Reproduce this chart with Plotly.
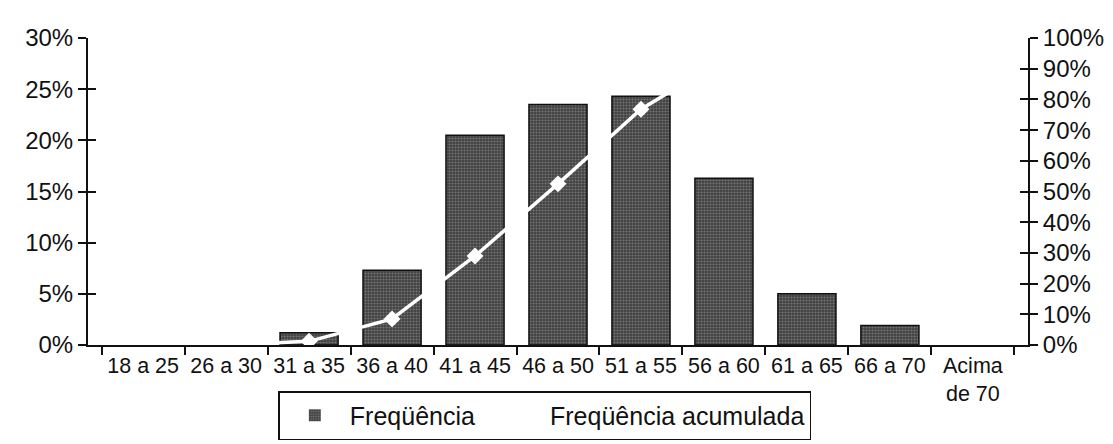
import plotly.graph_objects as go

categories = ["18 a 25", "26 a 30", "31 a 35", "36 a 40", "41 a 45", "46 a 50",
              "51 a 55", "56 a 60", "61 a 65", "66 a 70", "Acima<br>de 70"]
frequencia = [0.0, 0.0, 1.2, 7.3, 20.5, 23.5, 24.3, 16.3, 5.0, 1.9, 0.0]
acumulada = [0.0, 0.0, 1.2, 8.5, 29.0, 52.5, 76.8, 93.1, 98.1, 100.0, 100.0]
left_ticks = [0, 5, 10, 15, 20, 25, 30]
right_ticks = [0, 10, 20, 30, 40, 50, 60, 70, 80, 90, 100]

fam = "Liberation Sans, Arial, sans-serif"
yfont = dict(family=fam, size=24, color="#111")
xfont = dict(family=fam, size=21.5, color="#111")
lfont = dict(family=fam, size=25, color="#111")

fig = go.Figure()
fig.add_trace(go.Bar(
    x=categories, y=frequencia, name="Freqüência", width=0.7,
    marker=dict(color="#4a4a4a",
                line=dict(color="#111", width=[1.5 if v > 0 else 0 for v in frequencia]),
                pattern=dict(shape=".", fgcolor="#a8a8a8", bgcolor="#404040",
                             size=3, solidity=0.4, fillmode="overlay")),
    yaxis="y"))
fig.add_trace(go.Scatter(
    x=categories, y=acumulada, name="Freqüência acumulada", mode="lines+markers",
    line=dict(color="white", width=3.5),
    marker=dict(symbol="diamond", size=13, color="white"),
    yaxis="y2"))

common = dict(showgrid=False, zeroline=False, ticklen=8, tickwidth=2,
              tickcolor="#111", automargin=False)
nolines = dict(showline=False)

fig.update_layout(
    width=1113, height=444,
    margin=dict(l=80, r=93, t=30, b=102),
    paper_bgcolor="white", plot_bgcolor="white",
    font=xfont,
    xaxis=dict(showgrid=False, showline=True, linecolor="#111", linewidth=2,
               ticks="outside", tickson="boundaries", ticklen=8, tickwidth=2,
               tickcolor="#111", tickangle=0, tickfont=xfont, automargin=False),
    yaxis=dict(range=[0, 30], tickvals=left_ticks, tickfont=yfont,
               ticktext=[f"{v}%" for v in left_ticks], ticks="outside",
               showline=True, linecolor="#111", linewidth=2, side="left", **common),
    yaxis3=dict(range=[0, 30], tickvals=left_ticks, overlaying="y", side="left",
                ticks="inside", showticklabels=False, **nolines, **common),
    yaxis2=dict(range=[0, 100], tickvals=right_ticks, tickfont=yfont,
                ticktext=[f"{v}%" for v in right_ticks], ticks="outside",
                showline=True, linecolor="#111", linewidth=2, side="right",
                overlaying="y", **common),
    yaxis4=dict(range=[0, 100], tickvals=right_ticks, overlaying="y", side="right",
                ticks="inside", showticklabels=False, **nolines, **common),
    showlegend=True,
    legend=dict(orientation="h", x=0.486, xanchor="center", y=-0.15, yanchor="top",
                bordercolor="#111", borderwidth=1.5, font=lfont, itemwidth=60),
)
# dummy traces to activate the overlay axes (crossing tick marks)
fig.add_trace(go.Scatter(x=[categories[0]], y=[None], yaxis="y3", showlegend=False, hoverinfo="skip"))
fig.add_trace(go.Scatter(x=[categories[0]], y=[None], yaxis="y4", showlegend=False, hoverinfo="skip"))

fig.write_html("out.html")
